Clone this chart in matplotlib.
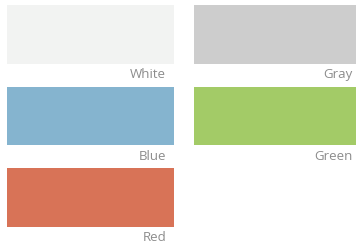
import matplotlib.pyplot as plt

names = ['White', 'Gray', 'Blue', 'Green', 'Red']
colors = ['#f2f3f2', '#cdcdcd', '#85b4cf', '#a3cb67', '#d87357']

# layout in pixels
W, H = 356, 248
ncol = 2
x_left, col_step, sw_w = 7, 187, 167
y_top, row_step, sw_h = 5, 81.5, 58.5

fig = plt.figure(figsize=(W / 100, H / 100), dpi=100)
ax = fig.add_axes([0, 0, 1, 1])
ax.set_xlim(0, W)
ax.set_ylim(H, 0)
ax.axis('off')

for i, (name, c) in enumerate(zip(names, colors)):
    col, row = i % ncol, i // ncol
    x0 = x_left + col * col_step
    y0 = y_top + row * row_step
    ax.bar(x0, sw_h, width=sw_w, bottom=y0, align='edge', color=c, linewidth=0)
    ax.text(min(x0 + sw_w - 8, W - 1), y0 + sw_h + 11, name, ha='right', va='center',
            fontsize=9.5, color='#8c8c8c', family=['Open Sans', 'DejaVu Sans'])

fig.savefig('out.png', dpi=100)
